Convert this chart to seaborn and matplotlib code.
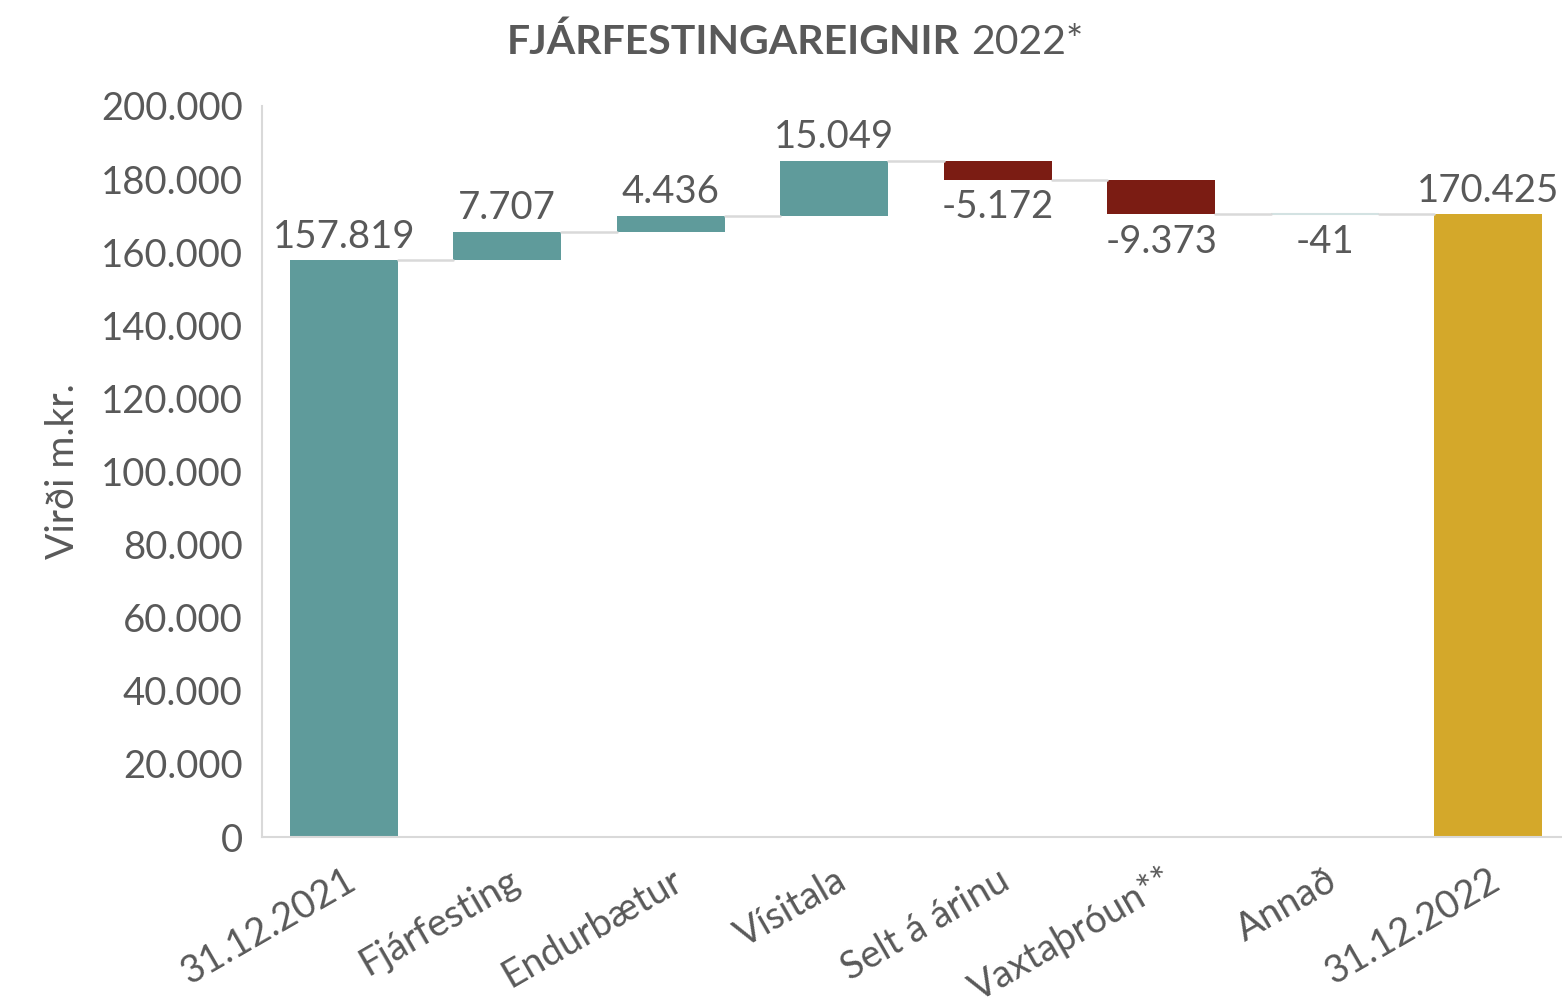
import matplotlib
matplotlib.use("Agg")
import matplotlib.pyplot as plt
import seaborn as sns
import numpy as np
import pandas as pd

categories = ["31.12.2021", "Fjárfesting", "Endurbætur", "Vísitala",
              "Selt á árinu", "Vaxtaþróun**", "Annað", "31.12.2022"]
start_value = 157819
changes = [7707, 4436, 15049, -5172, -9373, -41]
end_value = 170425
yticks = [0, 20000, 40000, 60000, 80000, 100000, 120000, 140000, 160000, 180000, 200000]

TEAL = "#5F9B9B"
RED = "#7B1C13"
GOLD = "#D4A82A"
GREY = "#595959"
LINE = "#D9D9D9"

sns.set_theme(style="white")
plt.rcParams['font.family'] = ['Lato', 'DejaVu Sans']

FS = 27.5

# waterfall geometry derived from the data
levels = [start_value]
for c in changes:
    levels.append(levels[-1] + c)
bottoms, heights, colors, labels = [0], [start_value], [TEAL], [start_value]
for i, c in enumerate(changes):
    lo = min(levels[i], levels[i + 1])
    bottoms.append(lo)
    heights.append(abs(c))
    colors.append(TEAL if c > 0 else RED)
    labels.append(c)
bottoms.append(0)
heights.append(end_value)
colors.append(GOLD)
labels.append(end_value)

df = pd.DataFrame({"cat": categories, "h": heights, "b": bottoms})

fig = plt.figure(figsize=(15.62, 10.06), dpi=100)
ax = fig.add_axes([262/1562, 1 - 837/1006, (1570 - 262)/1562, (837-106)/1006])

bw = 0.66
sns.barplot(data=df, x="cat", y="h", bottom=np.array(bottoms), width=bw,
            color=TEAL, ax=ax, saturation=1, linewidth=0)
for p, col, h in zip(ax.patches, colors, heights):
    p.set_facecolor(col)
    p.set_linewidth(0)
    if h < 500:  # hairline bar, drawn faintly like the reference
        p.set_facecolor("#D3E2E2")
        p.set_edgecolor("#D3E2E2")
        p.set_linewidth(1.5)

# connector lines
running = levels
for i in range(len(categories) - 1):
    ax.plot([i + bw/2, i + 1 - bw/2], [running[i], running[i]], color=LINE, lw=1.8, zorder=1)

fmt = lambda v: f"{v:,}".replace(",", ".")
for i, (b, h, v) in enumerate(zip(bottoms, heights, labels)):
    if v >= 0:
        ax.annotate(fmt(v), (i, b + h), xytext=(0, 4), textcoords="offset points",
                    ha="center", va="bottom", fontsize=FS, color=GREY)
    else:
        ax.annotate(fmt(v), (i, b), xytext=(0, -7), textcoords="offset points",
                    ha="center", va="top", fontsize=FS, color=GREY)

ax.set_ylim(0, 200000)
ax.set_xlim(-0.5, len(categories) - 0.5)
ax.set_yticks(yticks)
ax.set_yticklabels([fmt(t) for t in yticks], fontsize=FS, color=GREY)
ax.set_xticks(range(len(categories)))
ax.set_xticklabels(categories, fontsize=FS, color=GREY, rotation=30,
                   ha="right", rotation_mode="anchor")
ax.tick_params(axis="both", length=0)
ax.tick_params(axis="y", pad=14)
ax.tick_params(axis="x", pad=18)
ax.set_xlabel("")
ax.set_ylabel("Virði m.kr.", fontsize=28, color=GREY, labelpad=14)
sns.despine(ax=ax, top=True, right=True)
for s in ["left", "bottom"]:
    ax.spines[s].set_color(LINE)
    ax.spines[s].set_linewidth(1.5)

fig.text(960/1562, 1 - 42/1006, "FJÁRFESTINGAREIGNIR", ha="right", va="center",
         fontsize=29.5, fontweight="bold", color=GREY)
fig.text(971/1562, 1 - 42/1006, "2022*", ha="left", va="center",
         fontsize=29.5, color=GREY)

fig.savefig("out.png", dpi=100)
